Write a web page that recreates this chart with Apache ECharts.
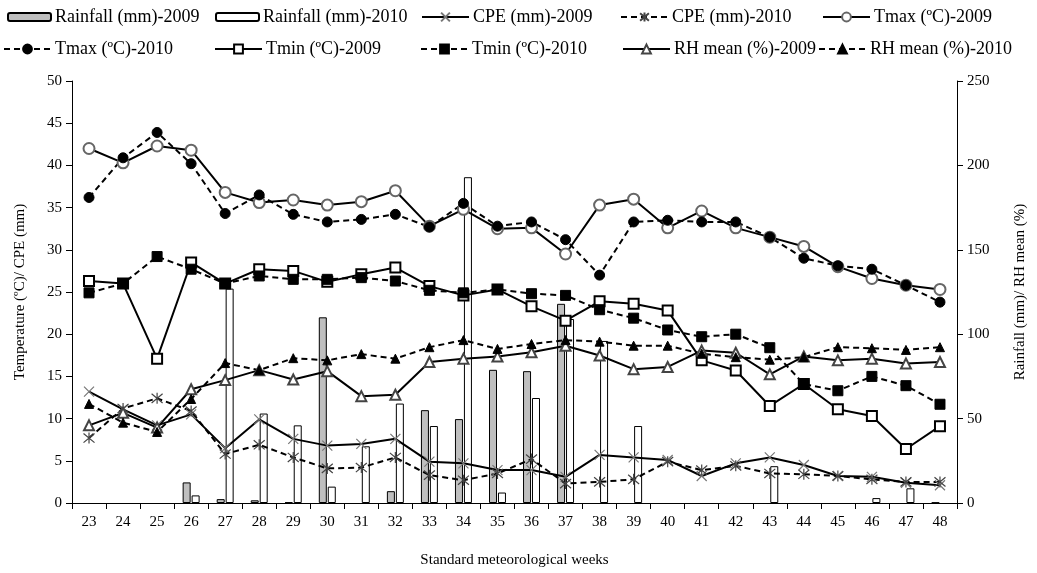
<!DOCTYPE html>
<html>
<head>
<meta charset="utf-8">
<script src="https://cdn.jsdelivr.net/npm/echarts@6/dist/echarts.min.js"></script>
<style>html,body{margin:0;padding:0;background:#fff;}#c{width:1037px;height:573px;}</style>
</head>
<body>
<div id="c"></div>
<script>
const weeks = ['23','24','25','26','27','28','29','30','31','32','33','34','35','36','37','38','39','40','41','42','43','44','45','46','47','48'];
const leftTicks = [0,5,10,15,20,25,30,35,40,45,50];
const rightTicks = [0,50,100,150,200,250];

const rain2009 = [null,null,null,12.2,2.3,1.6,0.4,110,null,7,55,49.7,78.9,78.1,118,null,null,null,null,null,null,null,null,null,null,0.3];
const rain2010 = [null,null,null,4.5,127,53,46,9.7,33.6,58.9,45.6,193,6.2,62.2,109,96,45.6,null,null,null,21.8,null,null,2.9,8.7,null];
const cpe2009 = [13.2,11.1,9.2,10.5,6.5,9.9,7.6,6.8,7.0,7.6,4.9,4.7,3.9,3.9,3.1,5.7,5.4,5.1,3.2,4.7,5.4,4.5,3.2,3.1,2.4,2.1];
const cpe2010 = [7.7,11.2,12.4,10.9,5.8,6.9,5.4,4.1,4.2,5.4,3.3,2.7,3.5,5.2,2.3,2.5,2.8,4.9,3.9,4.4,3.5,3.4,3.2,2.8,2.5,2.5];
const tmax2009 = [42.0,40.3,42.3,41.8,36.8,35.6,35.9,35.3,35.7,37.0,32.8,34.8,32.5,32.6,29.5,35.3,36.0,32.6,34.6,32.6,31.5,30.4,28.0,26.6,25.8,25.3];
const tmax2010 = [36.2,40.9,43.9,40.2,34.3,36.5,34.2,33.3,33.6,34.2,32.7,35.5,32.8,33.3,31.2,27.0,33.3,33.5,33.3,33.3,31.5,29.0,28.1,27.7,25.8,23.8];
const tmin2009 = [26.3,26.0,17.1,28.5,26.0,27.7,27.5,26.2,27.1,27.9,25.7,24.6,25.3,23.3,21.6,23.9,23.6,22.8,16.9,15.7,11.5,14.1,11.1,10.3,6.4,9.1];
const tmin2010 = [24.9,26.0,29.2,27.7,26.0,26.9,26.5,26.5,26.7,26.3,25.2,24.9,25.3,24.8,24.6,22.9,21.9,20.5,19.7,20.0,18.4,14.1,13.3,15.0,13.9,11.7];
const rh2009 = [46.0,53.4,44.7,67.4,72.8,78.7,73.2,78.1,63.3,64.1,83.5,85.5,86.8,89.3,93.2,87.4,79.3,80.6,90.3,89.0,76.2,86.8,84.5,85.5,82.6,83.5];
const rh2010 = [58.7,47.6,42.1,61.6,82.9,78.7,85.8,84.5,88.2,85.5,92.3,96.5,91.3,94.2,96.5,95.6,93.2,93.2,88.4,86.4,84.9,86.4,92.3,91.7,90.7,92.3];

const FONT = '"Liberation Serif", "Times New Roman", serif';
const xPath = 'path://M0,0L10,10M10,0L0,10';
const starPath = 'path://M0,0L10,10M10,0L0,10M5,-1L5,11';

function lineSeries(name, data, dashed, symbol, size, color, empty) {
  return {
    name: name, type: 'line', data: data, yAxisIndex: 0, z: 5,
    symbol: symbol, symbolSize: size,
    lineStyle: {color: '#000', width: 2, type: dashed ? [6, 4] : 'solid'},
    itemStyle: {color: color, borderColor: color, borderWidth: empty ? 1.2 : 1},
    emphasis: {disabled: true}
  };
}

const series = [
  {name: 'Rainfall (mm)-2009', type: 'bar', data: rain2009, yAxisIndex: 1, barWidth: 8, barGap: '12%', z: 2,
   itemStyle: {color: '#bfbfbf', borderColor: '#000', borderWidth: 1}},
  {name: 'Rainfall (mm)-2010', type: 'bar', data: rain2010, yAxisIndex: 1, barWidth: 8, barGap: '12%', z: 2,
   itemStyle: {color: '#fff', borderColor: '#000', borderWidth: 1}},
  lineSeries('CPE (mm)-2009', cpe2009, false, xPath, 10, '#777', true),
  lineSeries('CPE (mm)-2010', cpe2010, true, starPath, 11, '#444', true),
  lineSeries('Tmax (ºC)-2009', tmax2009, false, 'emptyCircle', 11, '#666', true),
  lineSeries('Tmax (ºC)-2010', tmax2010, true, 'circle', 10, '#000', false),
  lineSeries('Tmin (ºC)-2009', tmin2009, false, 'emptyRect', 10, '#000', true),
  lineSeries('Tmin (ºC)-2010', tmin2010, true, 'rect', 10, '#000', false),
  Object.assign(lineSeries('RH mean (%)-2009', rh2009, false, 'emptyTriangle', 10, '#444', true), {yAxisIndex: 1}),
  Object.assign(lineSeries('RH mean (%)-2010', rh2010, true, 'triangle', 9, '#000', false), {yAxisIndex: 1})
];

const legendPos = [
  [7, 8], [215, 8], [421, 8], [620, 8], [822, 8],
  [3, 40], [214, 40], [420, 40], [622, 40], [818, 40]
];
const legends = series.map(function (s, i) {
  const isBar = s.type === 'bar';
  return {
    data: [s.name], left: legendPos[i][0], top: legendPos[i][1],
    itemWidth: isBar ? 43 : 47, itemHeight: isBar ? 8 : 11, itemGap: 0,
    textStyle: {fontFamily: FONT, fontSize: 18, color: '#000', padding: [0, 0, 0, -1]},
    padding: 0, selectedMode: false
  };
});

const chart = echarts.init(document.getElementById('c'), null, {renderer: 'canvas'});
chart.setOption({
  animation: false,
  backgroundColor: '#fff',
  legend: legends,
  grid: {left: 72, right: 80, top: 81, bottom: 63, containLabel: false},
  xAxis: {
    type: 'category', data: weeks, boundaryGap: true,
    name: 'Standard meteorological weeks', nameLocation: 'middle', nameGap: 50,
    nameTextStyle: {fontFamily: FONT, fontSize: 15, color: '#000'},
    axisLine: {lineStyle: {color: '#000', width: 1}},
    axisTick: {show: true, length: 6, lineStyle: {color: '#000'}, interval: 0},
    axisLabel: {fontFamily: FONT, fontSize: 15, color: '#000', margin: 12, interval: 0},
    splitLine: {show: false}
  },
  yAxis: [
    {type: 'value', min: leftTicks[0], max: leftTicks[leftTicks.length - 1], interval: 5,
     name: 'Temperature (ºC)/ CPE (mm)', nameLocation: 'middle', nameGap: 44, nameRotate: 90,
     nameTextStyle: {fontFamily: FONT, fontSize: 15, color: '#000'},
     axisLine: {show: true, lineStyle: {color: '#000', width: 1}},
     axisTick: {show: true, length: 6, lineStyle: {color: '#000'}},
     axisLabel: {fontFamily: FONT, fontSize: 15, color: '#000', margin: 10},
     splitLine: {show: false}},
    {type: 'value', min: rightTicks[0], max: rightTicks[rightTicks.length - 1], interval: 50, position: 'right',
     name: 'Rainfall (mm)/ RH mean (%)', nameLocation: 'middle', nameGap: 56, nameRotate: 90,
     nameTextStyle: {fontFamily: FONT, fontSize: 15, color: '#000'},
     axisLine: {show: true, lineStyle: {color: '#000', width: 1}},
     axisTick: {show: true, length: 6, lineStyle: {color: '#000'}},
     axisLabel: {fontFamily: FONT, fontSize: 15, color: '#000', margin: 10},
     splitLine: {show: false}}
  ],
  series: series
});
</script>
</body>
</html>
